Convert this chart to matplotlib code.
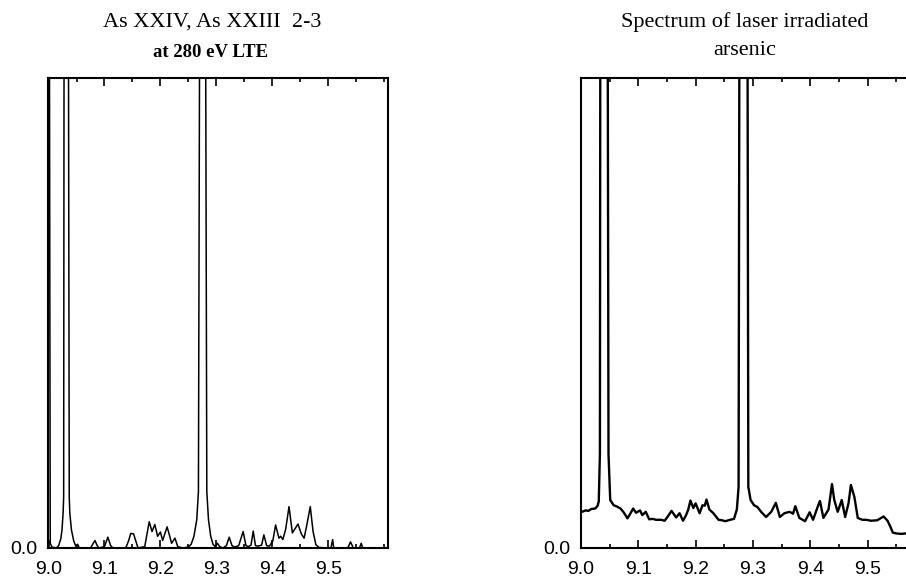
import numpy as np
import matplotlib
matplotlib.use("Agg")
import matplotlib.pyplot as plt
from matplotlib.ticker import MultipleLocator, FixedLocator, FixedFormatter

# Calculated spectrum (As XXIV, As XXIII 2-3 at 280 eV LTE), intensity in % of axes height
calc_wl = [9.001, 9.003, 9.006, 9.014, 9.018, 9.022, 9.024, 9.026, 9.027, 9.028,
           9.035, 9.037, 9.038, 9.041, 9.045, 9.049, 9.052, 9.055, 9.075, 9.080,
           9.083, 9.087, 9.090, 9.100, 9.106, 9.111, 9.115, 9.138, 9.143, 9.147,
           9.152, 9.156, 9.160, 9.172, 9.180, 9.185, 9.190, 9.195, 9.200, 9.204,
           9.212, 9.216, 9.220, 9.226, 9.231, 9.240, 9.250, 9.255, 9.260, 9.265,
           9.268, 9.271, 9.280, 9.283, 9.286, 9.290, 9.294, 9.298, 9.302, 9.306,
           9.312, 9.318, 9.323, 9.328, 9.333, 9.340, 9.348, 9.353, 9.357, 9.362,
           9.366, 9.370, 9.374, 9.381, 9.385, 9.390, 9.395, 9.401, 9.406, 9.412,
           9.415, 9.419, 9.424, 9.430, 9.436, 9.446, 9.452, 9.457, 9.462, 9.468,
           9.473, 9.478, 9.484, 9.505, 9.508, 9.510, 9.535, 9.540, 9.545, 9.556,
           9.559, 9.562, 9.607]
calc_int = [150, 1.0, 0.2, 0, 0.5, 2.0, 3.8, 7.4, 10.9, 150,
            150, 10.9, 7.4, 3.8, 1.5, 0.3, 0.8, 0, 0, 1.0,
            1.6, 0.5, 0, 0.3, 2.3, 0.5, 0, 0, 1.5, 3.1,
            3.0, 1.5, 0, 0.3, 5.6, 3.5, 5.0, 2.5, 3.4, 1.6,
            4.5, 2.8, 1.0, 2.1, 0.3, 0, 0.2, 0.8, 2.5, 6.0,
            12.0, 150, 150, 12.0, 6.0, 2.5, 0.8, 0.3, 1.0, 0.3,
            0, 0.5, 2.3, 0.5, 0.2, 0.5, 3.5, 0.5, 0.3, 0.6,
            3.6, 0.5, 0.4, 0.6, 2.8, 0.5, 0.4, 1.5, 4.9, 2.1,
            2.5, 1.8, 4.0, 8.8, 3.2, 5.1, 3.0, 2.1, 5.0, 8.8,
            3.5, 0.7, 0.1, 0, 1.8, 0, 0, 1.3, 0, 0,
            1.0, 0, 0]

# Measured spectrum of laser irradiated arsenic
meas_wl = [8.995, 9.002, 9.008, 9.013, 9.018, 9.025, 9.029, 9.031, 9.033, 9.034,
           9.046, 9.048, 9.051, 9.057, 9.063, 9.069, 9.075, 9.081, 9.086, 9.091,
           9.096, 9.103, 9.107, 9.113, 9.119, 9.125, 9.131, 9.140, 9.146, 9.152,
           9.158, 9.166, 9.172, 9.178, 9.183, 9.187, 9.191, 9.196, 9.200, 9.207,
           9.212, 9.216, 9.219, 9.224, 9.231, 9.240, 9.246, 9.252, 9.260, 9.267,
           9.272, 9.275, 9.277, 9.290, 9.292, 9.296, 9.302, 9.308, 9.315, 9.323,
           9.332, 9.340, 9.347, 9.355, 9.364, 9.370, 9.374, 9.381, 9.391, 9.399,
           9.405, 9.414, 9.417, 9.423, 9.432, 9.438, 9.442, 9.448, 9.455, 9.461,
           9.467, 9.471, 9.477, 9.483, 9.491, 9.498, 9.506, 9.517, 9.528, 9.535,
           9.540, 9.544, 9.550, 9.559, 9.567, 9.580]
meas_int = [7.6, 7.7, 8.0, 7.9, 8.3, 8.4, 9.0, 9.9, 20, 150,
            150, 20, 10.2, 9.1, 8.8, 8.4, 7.5, 6.3, 7.3, 8.4,
            7.5, 8.0, 7.0, 7.7, 6.1, 6.2, 6.0, 6.0, 5.8, 6.8,
            7.9, 6.5, 7.4, 5.8, 6.9, 8.1, 10.1, 8.5, 9.5, 7.4,
            9.1, 9.0, 10.3, 8.2, 7.4, 6.0, 5.9, 5.7, 6.0, 6.2,
            8.2, 13, 150, 150, 13, 10.2, 9.1, 8.7, 7.6, 6.6,
            7.7, 9.6, 6.6, 7.4, 7.7, 7.3, 8.9, 6.4, 5.7, 7.6,
            6.0, 9.1, 10.0, 6.4, 8.2, 13.6, 10.2, 7.7, 10.2, 6.6,
            9.6, 13.4, 10.9, 6.4, 6.0, 6.0, 5.8, 5.9, 6.7, 5.8,
            4.5, 3.3, 3.1, 3.0, 3.1, 3.0]

major_ticks = [9.0, 9.1, 9.2, 9.3, 9.4, 9.5]
tick_labels = ["9.0", "9.1", "9.2", "9.3", "9.4", "9.5"]

fig = plt.figure(figsize=(9.06, 5.79), dpi=100)

tick_font = {"family": "Liberation Sans", "size": 14}


def style_axes(ax, xlim, show_right=True):
    ax.set_xlim(*xlim)
    ax.set_ylim(0, 100)
    ax.xaxis.set_major_locator(FixedLocator(major_ticks))
    ax.xaxis.set_major_formatter(FixedFormatter(tick_labels))
    ax.xaxis.set_minor_locator(MultipleLocator(0.05))
    ax.tick_params(axis="x", which="both", direction="in", top=True, bottom=True,
                   width=1.2, pad=9)
    ax.tick_params(axis="x", which="major", length=6)
    ax.tick_params(axis="x", which="minor", length=3)
    ax.set_yticks([0])
    ax.set_yticklabels(["0.0"])
    ax.tick_params(axis="y", length=0, pad=8)
    for lab in ax.get_xticklabels() + ax.get_yticklabels():
        lab.set_fontfamily(tick_font["family"])
        lab.set_fontsize(tick_font["size"])
    for side, sp in ax.spines.items():
        sp.set_linewidth(1.5)
    if not show_right:
        ax.spines["right"].set_visible(False)


ax1 = fig.add_axes([48 / 906, 1 - 548 / 579, 340 / 906, 470 / 579])
ax1.plot(calc_wl, calc_int, color="black", lw=1.1)
style_axes(ax1, (8.999, 9.607))

ax2 = fig.add_axes([581 / 906, 1 - 548 / 579, 330 / 906, 470 / 579])
ax2.plot(meas_wl, meas_int, color="black", lw=1.7)
style_axes(ax2, (9.0, 9.575 + 5 / 565 * 0.1), show_right=False)

# Titles
fig.text(212 / 906, 1 - 27 / 579, "As XXIV, As XXIII  2-3", ha="center", va="baseline",
         family="Liberation Serif", fontsize=16)
fig.text(211 / 906, 1 - 57 / 579, "at 280 eV LTE", ha="center", va="baseline",
         family="Liberation Serif", fontsize=13.5, fontweight="bold")
fig.text(745 / 906, 1 - 27 / 579, "Spectrum of laser irradiated", ha="center", va="baseline",
         family="Liberation Serif", fontsize=16)
fig.text(745 / 906, 1 - 55 / 579, "arsenic", ha="center", va="baseline",
         family="Liberation Serif", fontsize=16)

fig.savefig("out.png", dpi=100)
